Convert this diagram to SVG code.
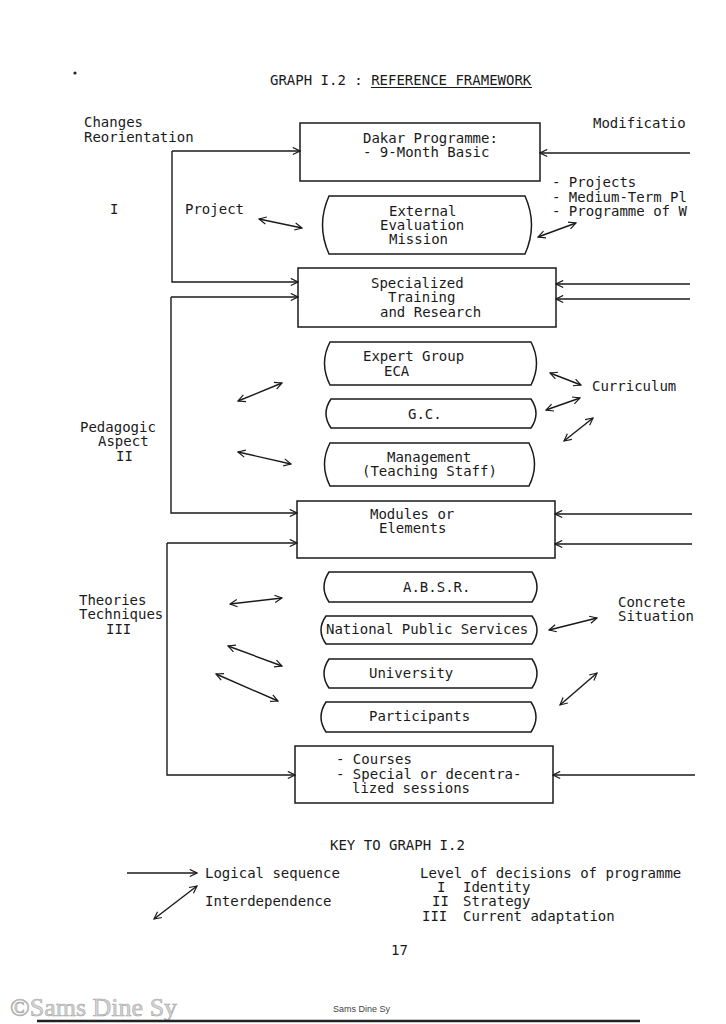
<svg xmlns="http://www.w3.org/2000/svg" width="726" height="1024" viewBox="0 0 726 1024">
<style>
text{font-family:"DejaVu Sans Mono","Liberation Mono",monospace;font-size:14px;fill:#1a1a1a}
.b{fill:none;stroke:#1a1a1a;stroke-width:1.5}
.c line,.c path{fill:none;stroke:#1a1a1a;stroke-width:1.4}
</style>
<defs>
<marker id="ah" viewBox="0 0 10 10" refX="9" refY="5" markerWidth="9" markerHeight="9" markerUnits="userSpaceOnUse" orient="auto-start-reverse">
<path d="M1,1 L9,5 L1,9" fill="none" stroke="#1a1a1a" stroke-width="1.3"/>
</marker>
</defs>
<rect width="726" height="1024" fill="#fff"/>
<circle cx="75" cy="73" r="1.6" fill="#222"/>
<text x="270" y="85">GRAPH I.2 : REFERENCE FRAMEWORK</text>
<line x1="371" y1="87.5" x2="532" y2="87.5" stroke="#1a1a1a" stroke-width="1"/>

<g id="labels">
<text x="84" y="127">Changes</text>
<text x="84" y="142">Reorientation</text>
<text x="593" y="128">Modificatio</text>
<text x="552" y="187">- Projects</text>
<text x="552" y="202">- Medium-Term Pl</text>
<text x="552" y="216">- Programme of W</text>
<text x="110" y="214">I</text>
<text x="185" y="214">Project</text>
<text x="592" y="391">Curriculum</text>
<text x="80" y="432">Pedagogic</text>
<text x="98" y="446">Aspect</text>
<text x="116" y="461">II</text>
<text x="79" y="605">Theories</text>
<text x="79" y="619">Techniques</text>
<text x="106" y="634">III</text>
<text x="618" y="607">Concrete</text>
<text x="618" y="621">Situation</text>
</g>

<g id="n-dakar">
<rect class="b" x="300" y="123" width="240" height="58"/>
<text x="363" y="143">Dakar Programme:</text>
<text x="363" y="157">- 9-Month Basic</text>
</g>
<g id="n-external">
<path class="b" d="M329,196 H525 Q538,225 525,254 H329 Q316,225 329,196 Z"/>
<text x="389" y="216">External</text>
<text x="380" y="230">Evaluation</text>
<text x="389" y="244">Mission</text>
</g>
<g id="n-specialized">
<rect class="b" x="298" y="268" width="258" height="59"/>
<text x="371" y="288">Specialized</text>
<text x="388" y="302">Training</text>
<text x="380" y="317">and Research</text>
</g>
<g id="n-expert">
<path class="b" d="M330,342 H531 Q542,363 531,385 H330 Q319,363 330,342 Z"/>
<text x="363" y="361">Expert Group</text>
<text x="384" y="376">ECA</text>
</g>
<g id="n-gc">
<path class="b" d="M331,399 H531 Q541,413.5 531,428 H331 Q321,413.5 331,399 Z"/>
<text x="408" y="419">G.C.</text>
</g>
<g id="n-management">
<path class="b" d="M330,443 H529 Q540,464 529,486 H330 Q319,464 330,443 Z"/>
<text x="387" y="462">Management</text>
<text x="362" y="476">(Teaching Staff)</text>
</g>
<g id="n-modules">
<rect class="b" x="297" y="501" width="258" height="57"/>
<text x="370" y="519">Modules or</text>
<text x="379" y="533">Elements</text>
</g>
<g id="n-absr">
<path class="b" d="M329,572 H532 Q542,587 532,602 H329 Q319,587 329,572 Z"/>
<text x="403" y="592">A.B.S.R.</text>
</g>
<g id="n-nps">
<path class="b" d="M326,616 H532 Q542,630 532,644 H326 Q316,630 326,616 Z"/>
<text x="326" y="634">National Public Services</text>
</g>
<g id="n-university">
<path class="b" d="M329,659 H532 Q542,673.5 532,688 H329 Q319,673.5 329,659 Z"/>
<text x="369" y="678">University</text>
</g>
<g id="n-participants">
<path class="b" d="M326,702 H531 Q541,717 531,732 H326 Q316,717 326,702 Z"/>
<text x="369" y="721">Participants</text>
</g>
<g id="n-courses">
<rect class="b" x="295" y="746" width="258" height="57"/>
<text x="336" y="764">- Courses</text>
<text x="336" y="779">- Special or decentra-</text>
<text x="352" y="793">lized sessions</text>
</g>

<g id="connectors" class="c">
<path d="M172,151 V282 H298" marker-end="url(#ah)"/>
<line x1="172" y1="151" x2="300" y2="151" marker-end="url(#ah)"/>
<path d="M171,297 V513 H297" marker-end="url(#ah)"/>
<line x1="171" y1="297" x2="298" y2="297" marker-end="url(#ah)"/>
<path d="M167,543 V775 H295" marker-end="url(#ah)"/>
<line x1="167" y1="543" x2="297" y2="543" marker-end="url(#ah)"/>
<line x1="690" y1="153" x2="540" y2="153" marker-end="url(#ah)"/>
<line x1="690" y1="284" x2="556" y2="284" marker-end="url(#ah)"/>
<line x1="690" y1="299" x2="556" y2="299" marker-end="url(#ah)"/>
<line x1="692" y1="514" x2="555" y2="514" marker-end="url(#ah)"/>
<line x1="692" y1="544" x2="555" y2="544" marker-end="url(#ah)"/>
<line x1="695" y1="775" x2="553" y2="775" marker-end="url(#ah)"/>
<line x1="259" y1="219" x2="302" y2="228" marker-start="url(#ah)" marker-end="url(#ah)"/>
<line x1="538" y1="237" x2="576" y2="223" marker-start="url(#ah)" marker-end="url(#ah)"/>
<line x1="238" y1="401" x2="282" y2="383" marker-start="url(#ah)" marker-end="url(#ah)"/>
<line x1="238" y1="452" x2="291" y2="464" marker-start="url(#ah)" marker-end="url(#ah)"/>
<line x1="550" y1="373" x2="581" y2="385" marker-start="url(#ah)" marker-end="url(#ah)"/>
<line x1="546" y1="410" x2="580" y2="398" marker-start="url(#ah)" marker-end="url(#ah)"/>
<line x1="564" y1="441" x2="593" y2="418" marker-start="url(#ah)" marker-end="url(#ah)"/>
<line x1="230" y1="604" x2="282" y2="598" marker-start="url(#ah)" marker-end="url(#ah)"/>
<line x1="228" y1="646" x2="282" y2="666" marker-start="url(#ah)" marker-end="url(#ah)"/>
<line x1="216" y1="674" x2="278" y2="701" marker-start="url(#ah)" marker-end="url(#ah)"/>
<line x1="549" y1="630" x2="597" y2="618" marker-start="url(#ah)" marker-end="url(#ah)"/>
<line x1="560" y1="705" x2="597" y2="673" marker-start="url(#ah)" marker-end="url(#ah)"/>
</g>

<g id="key">
<text x="330" y="850">KEY TO GRAPH I.2</text>
<g class="c">
<line x1="127" y1="873" x2="197" y2="873" marker-end="url(#ah)"/>
<line x1="154" y1="919" x2="197" y2="886" marker-start="url(#ah)" marker-end="url(#ah)"/>
</g>
<text x="205" y="878">Logical sequence</text>
<text x="205" y="906">Interdependence</text>
<text x="420" y="878">Level of decisions of programme</text>
<text x="437" y="892">I</text>
<text x="463" y="892">Identity</text>
<text x="432" y="906">II</text>
<text x="463" y="906">Strategy</text>
<text x="422" y="921">III</text>
<text x="463" y="921">Current adaptation</text>
<text x="391" y="955">17</text>
</g>

<g id="footer">
<text x="10" y="1016" style="font-family:'Liberation Serif',serif;font-size:26px;fill:#d4d4d4;stroke:#a8a8a8;stroke-width:0.6">©Sams Dine Sy</text>
<text x="333" y="1012" style="font-family:'Liberation Sans',sans-serif;font-size:9px;fill:#444">Sams Dine Sy</text>
<line x1="37" y1="1021" x2="640" y2="1021" stroke="#222" stroke-width="2.5"/>
</g>
</svg>
